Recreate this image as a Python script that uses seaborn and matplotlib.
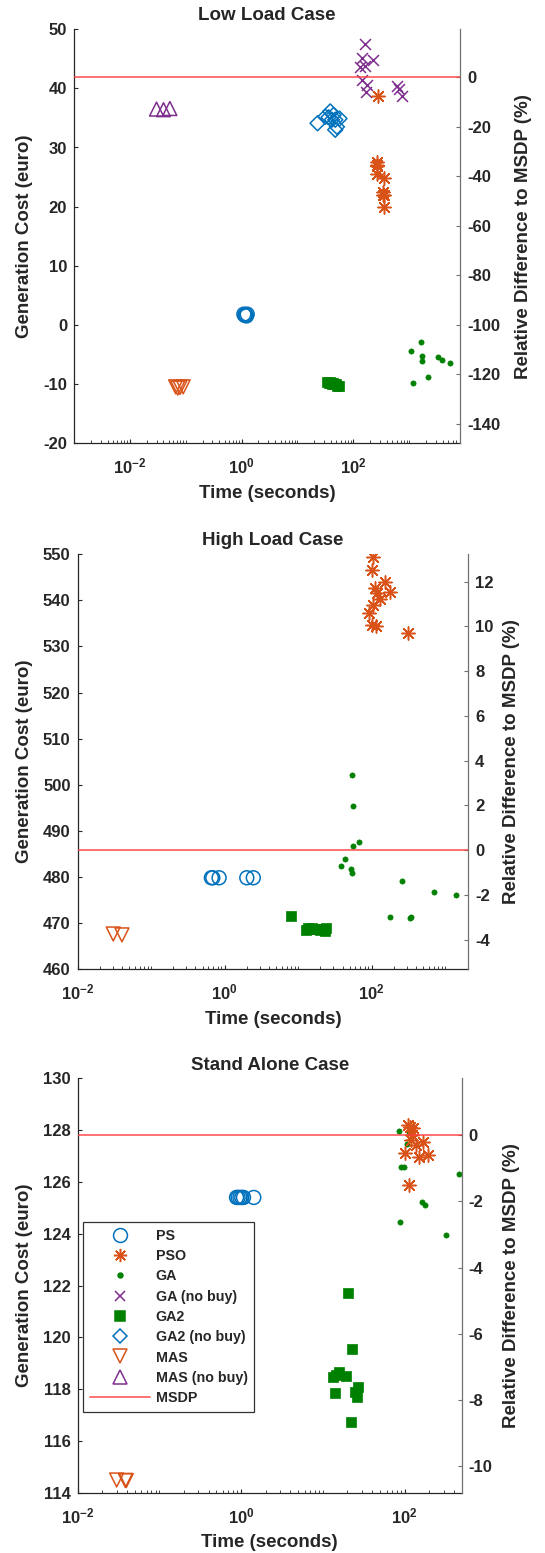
import numpy as np
import matplotlib
matplotlib.use('Agg')
import matplotlib.pyplot as plt
import seaborn as sns
from matplotlib import ticker
from matplotlib.lines import Line2D

sns.set_style('ticks')
plt.rcParams['font.family'] = ['Liberation Sans', 'DejaVu Sans']
plt.rcParams['font.weight'] = 'bold'
plt.rcParams['axes.labelweight'] = 'bold'
plt.rcParams['axes.titleweight'] = 'bold'
plt.rcParams['axes.unicode_minus'] = False
plt.rcParams['mathtext.fontset'] = 'custom'
plt.rcParams['mathtext.rm'] = 'Liberation Sans:bold'
plt.rcParams['mathtext.it'] = 'Liberation Sans:bold'
plt.rcParams['mathtext.bf'] = 'Liberation Sans:bold'
plt.rcParams['mathtext.default'] = 'rm'

# ---- data (time in s, generation cost in euro) ----
# Low load case
low_ps_t = [1.10, 1.14, 1.18, 1.22, 1.26]
low_ps_c = [1.8, 1.6, 1.7, 1.5, 1.8]
low_pso_t = [264, 270, 262, 266, 361, 347, 338, 355, 357, 275]
low_pso_c = [27.6, 27.1, 26.8, 25.6, 24.9, 22.4, 21.9, 22.0, 20.0, 38.7]
low_ga_t = [1069, 1636, 1683, 1683, 3250, 3830, 5400, 2210, 1192]
low_ga_c = [-4.4, -2.9, -5.3, -6.1, -5.4, -6.0, -6.5, -8.9, -9.9]
low_ganb_t = [159, 146, 224, 133, 163, 146, 179, 170, 617, 670, 739]
low_ganb_c = [47.5, 45.1, 44.8, 43.7, 43.8, 41.4, 40.6, 39.4, 40.4, 39.9, 38.7]
low_ga2_t = [34, 36, 38, 40, 43, 46, 49, 52, 56, 41]
low_ga2_c = [-9.7, -9.8, -9.75, -9.9, -9.85, -10.0, -10.1, -10.3, -10.4, -9.95]
low_ga2nb_t = [22.9, 31.5, 38.6, 44.3, 47.5, 50.9, 56.6, 41.4, 36.0, 47.5]
low_ga2nb_c = [34.1, 35.2, 36.1, 35.5, 34.7, 33.5, 34.9, 34.7, 35.1, 33.0]
low_mas_t = [0.066, 0.072, 0.079, 0.090]
low_mas_c = [-10.5, -10.7, -10.6, -10.5]
low_masnb_t = [0.030, 0.040, 0.052]
low_masnb_c = [36.5, 36.4, 36.6]
low_msdp = 41.88

# High load case
high_ps_t = [0.66, 0.69, 0.84, 2.0, 2.45]
high_ps_c = [479.8, 479.8, 479.8, 479.8, 479.8]
high_pso_t = [104, 101, 150, 175, 110, 116, 128.5, 104, 92, 102, 113, 311]
high_pso_c = [549.5, 546.6, 544.0, 541.9, 542.6, 541.5, 540.2, 539.0, 537.3, 534.7, 534.4, 533.0]
high_ga_t = [54.1, 55.7, 66, 55.7, 43, 38, 51.9, 53, 255, 700, 1410, 177, 328, 346]
high_ga_c = [502.1, 495.4, 487.5, 486.8, 483.9, 482.3, 481.8, 480.9, 479.1, 476.7, 476.0, 471.3, 471.1, 471.35]
high_ga2_t = [7.95, 12.6, 13.5, 14.5, 15.5, 17, 20, 22, 24, 23]
high_ga2_c = [471.4, 468.5, 468.8, 468.6, 468.9, 468.7, 468.4, 468.6, 468.8, 468.3]
high_mas_t = [0.0306, 0.0402]
high_mas_c = [467.6, 467.4]
high_msdp = 485.8

# Stand alone case
sa_ps_t = [0.88, 0.92, 0.97, 1.02, 1.07, 1.43]
sa_ps_c = [125.4, 125.4, 125.4, 125.4, 125.4, 125.4]
sa_pso_t = [115.6, 127, 110, 121, 137, 168, 100.5, 151, 190.6, 113.5, 124]
sa_pso_c = [128.13, 128.07, 128.2, 127.62, 127.42, 127.55, 127.10, 126.97, 127.04, 125.88, 127.81]
sa_ga_t = [84.9, 111.5, 107.3, 89, 97.7, 163.7, 176.6, 86.7, 324, 459]
sa_ga_c = [127.98, 127.92, 127.47, 126.56, 126.59, 125.21, 125.10, 124.46, 123.95, 126.29]
sa_ga2_t = [20.1, 22.6, 14.5, 19.1, 13.4, 26.6, 14.1, 24.7, 25.9, 22.0, 15.7]
sa_ga2_c = [121.70, 119.55, 118.54, 118.51, 118.48, 118.09, 117.86, 117.90, 117.68, 116.74, 118.65]
sa_mas_t = [0.0301, 0.0385, 0.0395]
sa_mas_c = [114.49, 114.47, 114.47]
sa_msdp = 127.8

xtick_vals = [1e-2, 1e0, 1e2]

BLUE = '#0072BD'
ORANGE = '#D95319'
GREEN = '#008000'
PURPLE = '#7E2F8E'
RED = '#FF3B3B'
ASTER = (8, 2, 0)

# method -> (marker, size, color, filled)
styles = {
    'PS': ('o', 100, BLUE, False),
    'PSO': (ASTER, 90, ORANGE, False),
    'GA': ('o', 14, GREEN, True),
    'GA (no buy)': ('x', 62, PURPLE, False),
    'GA2': ('s', 58, GREEN, True),
    'GA2 (no buy)': ('D', 58, BLUE, False),
    'MAS': ('v', 100, ORANGE, False),
    'MAS (no buy)': ('^', 100, PURPLE, False),
}

fig = plt.figure(figsize=(5.45, 15.53), dpi=100)
W, H = 545.0, 1553.0


def panel(rect_px, series, msdp, ylim, yticks, rticks, xlim):
    l, t, r, b = rect_px
    ax = fig.add_axes([l / W, 1 - b / H, (r - l) / W, (b - t) / H])
    ax.set_xscale('log')
    for name, (tt, cc) in series.items():
        m, s, col, filled = styles[name]
        if filled:
            sns.scatterplot(x=tt, y=cc, ax=ax, marker=m, s=s, color=col,
                            edgecolor=col, linewidth=0.5, legend=False, zorder=3)
        elif m == 'x' or m == ASTER:
            sns.scatterplot(x=tt, y=cc, ax=ax, marker=m, s=s, color=col,
                            linewidth=1.1, legend=False, zorder=3)
        else:
            sns.scatterplot(x=tt, y=cc, ax=ax, marker=m, s=s, color=col,
                            facecolor='none', edgecolor=col, linewidth=1.1,
                            legend=False, zorder=3)
    ax.set_xlim(*xlim)
    ax.set_ylim(*ylim)
    ax.set_yticks(yticks)
    ax.xaxis.set_major_locator(ticker.FixedLocator(xtick_vals))
    ax.xaxis.set_minor_locator(ticker.LogLocator(base=10, subs=np.arange(1, 10), numticks=100))
    ax.xaxis.set_major_formatter(ticker.FuncFormatter(
        lambda v, p: r'$10^{%d}$' % int(round(np.log10(v)))))
    ax.xaxis.set_minor_formatter(ticker.NullFormatter())
    ax.tick_params(axis='both', which='major', direction='in', length=3, width=0.8,
                   labelsize=12, color='#262626', pad=5)
    ax.tick_params(axis='x', which='minor', direction='in', length=2, width=0.6,
                   color='#262626')
    ax.tick_params(axis='x', which='major', pad=10)
    for sp in ('top', 'right'):
        ax.spines[sp].set_visible(False)
    for sp in ('left', 'bottom'):
        ax.spines[sp].set_color('#262626')
        ax.spines[sp].set_linewidth(0.9)

    ax2 = ax.twinx()
    ax2.set_ylim((ylim[0] - msdp) / msdp * 100, (ylim[1] - msdp) / msdp * 100)
    ax2.set_yticks(rticks)
    ax2.axhline(0, color=RED, linewidth=1.2, alpha=0.85, zorder=2)
    for sp in ('top', 'left', 'bottom'):
        ax2.spines[sp].set_visible(False)
    ax2.spines['right'].set_color('#707070')
    ax2.spines['right'].set_linewidth(0.9)
    ax2.tick_params(axis='y', direction='in', length=3, width=0.8, labelsize=12,
                    color='#707070', pad=5)

    ax.set_xlabel('Time (seconds)', fontsize=13.5)
    ax.set_ylabel('Generation Cost (euro)', fontsize=13.5)
    ax2.set_ylabel('Relative Difference to MSDP (%)', fontsize=13.5)
    wpx, hpx = r - l, b - t
    ax.xaxis.set_label_coords(0.5, -50 / hpx)
    ax.xaxis.label.set_va('center')
    ax.yaxis.set_label_coords((25 - l) / wpx, 0.5)
    ax.yaxis.label.set_va('center')
    return ax, ax2, wpx, hpx


# Low load case
ax, ax2, wpx, hpx = panel((74, 29.3, 460, 443), {
    'PS': (low_ps_t, low_ps_c),
    'GA2': (low_ga2_t, low_ga2_c),
    'GA2 (no buy)': (low_ga2nb_t, low_ga2nb_c),
    'GA': (low_ga_t, low_ga_c),
    'GA (no buy)': (low_ganb_t, low_ganb_c),
    'PSO': (low_pso_t, low_pso_c),
    'MAS': (low_mas_t, low_mas_c),
    'MAS (no buy)': (low_masnb_t, low_masnb_c),
}, low_msdp, (-20, 50), np.arange(-20, 51, 10), np.arange(-140, 1, 20),
    (1e-3, 10 ** 3.91))
ax2.yaxis.set_label_coords((524 - 74) / wpx, 0.5)
ax2.yaxis.label.set_va('center')
ax.text(0.5, 1 + 14 / hpx, 'Low Load Case', transform=ax.transAxes,
        ha='center', va='center', fontsize=13.5, fontweight='bold')

# High load case
ax, ax2, wpx, hpx = panel((77.5, 554.3, 468.2, 969), {
    'PS': (high_ps_t, high_ps_c),
    'GA2': (high_ga2_t, high_ga2_c),
    'GA': (high_ga_t, high_ga_c),
    'PSO': (high_pso_t, high_pso_c),
    'MAS': (high_mas_t, high_mas_c),
}, high_msdp, (460, 550), np.arange(460, 551, 10), np.arange(-4, 13, 2),
    (1e-2, 10 ** 3.31))
ax2.yaxis.set_label_coords((512 - 77.5) / wpx, 0.5)
ax2.yaxis.label.set_va('center')
ax.text(0.5, 1 + 13.5 / hpx, 'High Load Case', transform=ax.transAxes,
        ha='center', va='center', fontsize=13.5, fontweight='bold')

# Stand alone case
ax, ax2, wpx, hpx = panel((77.5, 1078.3, 461.9, 1492.7), {
    'PS': (sa_ps_t, sa_ps_c),
    'GA2': (sa_ga2_t, sa_ga2_c),
    'GA': (sa_ga_t, sa_ga_c),
    'PSO': (sa_pso_t, sa_pso_c),
    'MAS': (sa_mas_t, sa_mas_c),
}, sa_msdp, (114, 130), np.arange(114, 131, 2), np.arange(-10, 1, 2),
    (1e-2, 10 ** 2.70))
ax2.yaxis.set_label_coords((511 - 77.5) / wpx, 0.5)
ax2.yaxis.label.set_va('center')
ax.text(0.5, 1 + 13.3 / hpx, 'Stand Alone Case', transform=ax.transAxes,
        ha='center', va='center', fontsize=13.5, fontweight='bold')

handles = []
for name, (m, s, col, filled) in styles.items():
    ms = np.sqrt(s)
    if name == 'GA':
        ms = 3.5
    handles.append(Line2D([], [], linestyle='none', marker=m, markersize=ms,
                          markerfacecolor=col if filled else 'none',
                          markeredgecolor=col, markeredgewidth=1.1, label=name))
handles.append(Line2D([], [], color=RED, linewidth=1.2, alpha=0.85, label='MSDP'))
leg = ax2.legend(handles=handles, loc='upper left',
                 bbox_to_anchor=((83.4 - 77.5) / wpx, 1 - (1222.3 - 1078.3) / hpx),
                 borderaxespad=0, fontsize=10.3, handlelength=4.2, handletextpad=0.4,
                 borderpad=0.45, labelspacing=0.44, fancybox=False, framealpha=1,
                 edgecolor='#333333')
leg.get_frame().set_linewidth(0.9)
for txt in leg.get_texts():
    txt.set_fontweight('bold')

fig.savefig('out.png', dpi=100)
